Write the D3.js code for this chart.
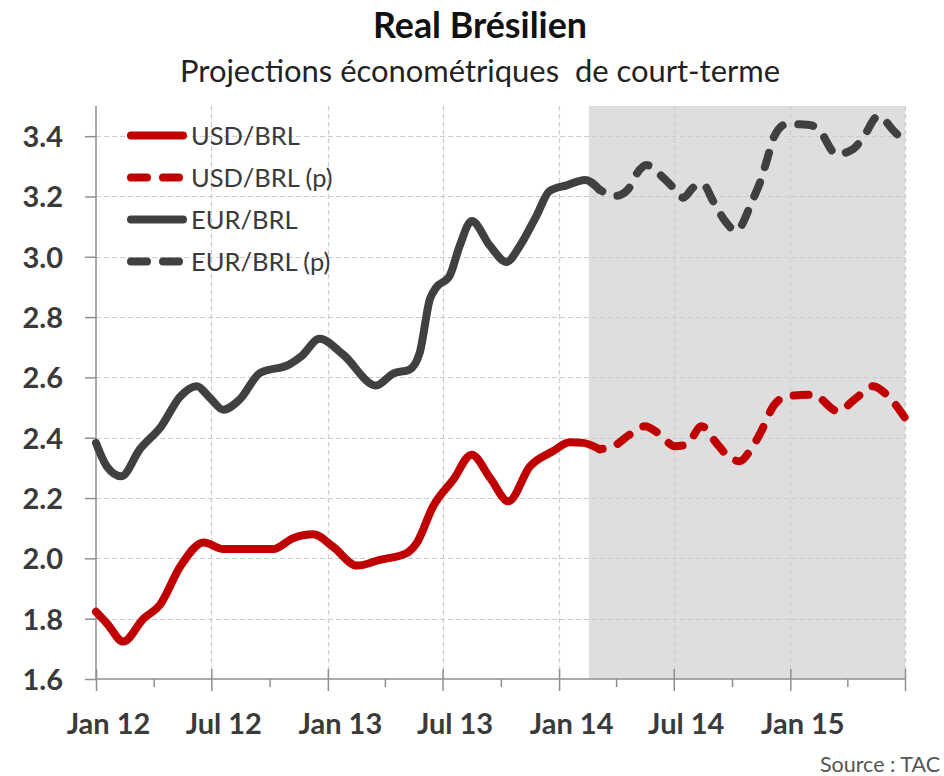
<!DOCTYPE html>
<html>
<head>
<meta charset="utf-8">
<script src="https://cdn.jsdelivr.net/npm/d3@7"></script>
<style>
  html, body { margin: 0; padding: 0; background: #ffffff; }
  svg { display: block; }
  text { font-family: Lato, "Open Sans", sans-serif; }
</style>
</head>
<body>
<svg id="chart" width="944" height="776"></svg>
<script>
// ---------------- DATA ----------------
const titleText = "Real Brésilien";
const subtitleText = "Projections économétriques  de court-terme";
const sourceText = "Source : TAC";

const seriesNames = ["USD/BRL", "USD/BRL (p)", "EUR/BRL", "EUR/BRL (p)"];

const usdHistDates = ["2012-01-01","2012-01-18","2012-02-13","2012-03-16","2012-04-11","2012-05-13","2012-06-19","2012-07-20","2012-10-07","2012-11-07","2012-12-09","2013-01-09","2013-02-16","2013-03-24","2013-05-05","2013-05-21","2013-06-16","2013-07-18","2013-08-16","2013-09-14","2013-10-13","2013-11-16","2013-12-22","2014-01-18","2014-02-08","2014-03-06"];
const usdHistValues = [1.823,1.785,1.724,1.800,1.846,1.973,2.053,2.031,2.031,2.067,2.080,2.039,1.976,1.995,2.017,2.050,2.172,2.261,2.344,2.267,2.189,2.305,2.355,2.385,2.383,2.362];

const usdFcstDates = ["2014-03-06","2014-04-01","2014-04-22","2014-05-16","2014-06-06","2014-07-03","2014-07-21","2014-08-14","2014-09-06","2014-09-22","2014-10-13","2014-11-01","2014-11-16","2014-12-05","2014-12-26","2015-02-06","2015-03-17","2015-04-15","2015-05-12","2015-06-02","2015-07-01"];
const usdFcstValues = [2.362,2.377,2.410,2.438,2.416,2.372,2.377,2.438,2.383,2.344,2.322,2.366,2.421,2.504,2.537,2.543,2.488,2.532,2.571,2.543,2.466];

const eurHistDates = ["2012-01-01","2012-01-18","2012-02-10","2012-03-10","2012-04-13","2012-05-13","2012-06-08","2012-06-29","2012-07-20","2012-08-15","2012-09-16","2012-11-01","2012-11-20","2012-12-19","2013-01-25","2013-03-18","2013-04-14","2013-05-10","2013-05-26","2013-06-11","2013-06-21","2013-07-12","2013-07-28","2013-08-16","2013-09-14","2013-10-10","2013-10-31","2013-11-26","2013-12-17","2014-01-13","2014-02-11","2014-03-06"];
const eurHistValues = [2.383,2.305,2.272,2.361,2.438,2.537,2.571,2.532,2.493,2.527,2.615,2.643,2.670,2.728,2.676,2.573,2.613,2.626,2.682,2.859,2.898,2.936,3.036,3.119,3.036,2.983,3.036,3.135,3.218,3.237,3.255,3.222];

const eurFcstDates = ["2014-03-06","2014-04-01","2014-04-20","2014-05-03","2014-05-19","2014-06-14","2014-06-30","2014-07-16","2014-08-01","2014-08-16","2014-09-01","2014-09-22","2014-10-07","2014-11-03","2014-11-14","2014-11-24","2014-12-07","2014-12-26","2015-02-01","2015-02-16","2015-03-15","2015-04-10","2015-04-26","2015-05-20","2015-06-13","2015-07-01"];
const eurFcstValues = [3.222,3.202,3.224,3.274,3.304,3.263,3.230,3.196,3.230,3.241,3.185,3.113,3.086,3.191,3.246,3.313,3.401,3.440,3.437,3.418,3.340,3.357,3.396,3.467,3.418,3.379];

const forecastBandStart = "2014-02-17";
const xDomainDates = ["2012-01-01", "2015-07-01"];
const yDomain = [1.6, 3.5];
const yTickValues = [1.6, 1.8, 2.0, 2.2, 2.4, 2.6, 2.8, 3.0, 3.2, 3.4];
const xMajorTickDates = ["2012-01-01","2012-07-01","2013-01-01","2013-07-01","2014-01-01","2014-07-01","2015-01-01","2015-07-01"];
const xMajorTickLabels = ["Jan 12","Jul 12","Jan 13","Jul 13","Jan 14","Jul 14","Jan 15",""];
const xMinorTickDates = ["2012-04-01","2012-10-01","2013-04-01","2013-10-01","2014-04-01","2014-10-01","2015-04-01"];

// ---------------- STYLE ----------------
const RED = "#c00000";
const DARK = "#404040";
const TEXT = "#3a3a3a";
const margin = { left: 96, right: 39, top: 106, bottom: 97 };
const W = 944, H = 776;

const parse = d3.timeParse("%Y-%m-%d");
const svg = d3.select("#chart");

const x = d3.scaleTime()
  .domain(xDomainDates.map(parse))
  .range([margin.left, W - margin.right]);
const y = d3.scaleLinear()
  .domain(yDomain)
  .range([H - margin.bottom, margin.top]);

const x0 = x.range()[0], x1 = x.range()[1];
const y0 = y.range()[0], y1 = y.range()[1];

function fitText(sel, targetWidth) {
  const base = parseFloat(sel.attr("font-size"));
  const w = sel.node().getComputedTextLength();
  sel.attr("font-size", (base * targetWidth / w).toFixed(2));
}
const title = svg.append("text")
  .attr("x", 480).attr("y", 38)
  .attr("text-anchor", "middle")
  .attr("font-weight", 700).attr("font-size", 32)
  .attr("fill", "#111").text(titleText);
fitText(title, 214);

const sub = svg.append("text")
  .attr("x", 480).attr("y", 82)
  .attr("text-anchor", "middle")
  .attr("font-size", 28)
  .attr("fill", "#222")
  .attr("xml:space", "preserve")
  .style("white-space", "pre")
  .text(subtitleText);
fitText(sub, 600);

// Forecast band
svg.append("rect")
  .attr("x", x(parse(forecastBandStart)))
  .attr("y", y1)
  .attr("width", x1 - x(parse(forecastBandStart)))
  .attr("height", y0 - y1)
  .attr("fill", "#dedede");

// Gridlines
const grid = svg.append("g").attr("stroke", "#cdcdcd").attr("stroke-width", 1.2).attr("stroke-dasharray", "5 3");
grid.selectAll("line.h")
  .data(yTickValues.filter(v => v > yDomain[0]))
  .join("line")
  .attr("x1", x0).attr("x2", x1)
  .attr("y1", d => Math.round(y(d)) + 0.5).attr("y2", d => Math.round(y(d)) + 0.5);
grid.selectAll("line.v")
  .data(xMajorTickDates.slice(1).map(parse))
  .join("line")
  .attr("x1", d => Math.round(x(d)) + 0.5).attr("x2", d => Math.round(x(d)) + 0.5)
  .attr("y1", y1).attr("y2", y0);

// Y axis
const yAxis = d3.axisLeft(y).tickValues(yTickValues).tickSize(11).tickPadding(22)
  .tickFormat(d3.format(".1f"));
const gy = svg.append("g").attr("transform", `translate(${x0},0)`).call(yAxis);
gy.select(".domain").remove();
gy.selectAll(".tick line").attr("stroke", "#8f8f8f").attr("stroke-width", 1.5);
gy.selectAll(".tick text")
  .attr("font-family", "Lato, sans-serif")
  .attr("font-size", 29).attr("font-weight", 700).attr("fill", TEXT)
  .attr("dy", "0.36em");
svg.append("line")
  .attr("x1", x0).attr("x2", x0).attr("y1", y1).attr("y2", y0)
  .attr("stroke", "#8f8f8f").attr("stroke-width", 1.5);

// X axis
svg.append("line")
  .attr("x1", x0).attr("x2", x1).attr("y1", y0).attr("y2", y0)
  .attr("stroke", "#8f8f8f").attr("stroke-width", 1.5);
const gxMajor = svg.append("g").attr("transform", `translate(0,${y0})`)
  .call(d3.axisBottom(x).tickValues(xMajorTickDates.map(parse)).tickSize(12)
    .tickFormat((d, i) => xMajorTickLabels[i]).tickPadding(22));
gxMajor.select(".domain").remove();
gxMajor.selectAll(".tick line").attr("y1", -10).attr("stroke", "#8f8f8f").attr("stroke-width", 1.5);
gxMajor.selectAll(".tick text")
  .attr("font-family", "Lato, sans-serif")
  .attr("font-size", 29).attr("font-weight", 700).attr("fill", TEXT)
  .attr("dx", 12);
const gxMinor = svg.append("g").attr("transform", `translate(0,${y0})`)
  .call(d3.axisBottom(x).tickValues(xMinorTickDates.map(parse)).tickSize(8).tickFormat(""));
gxMinor.select(".domain").remove();
gxMinor.selectAll(".tick line").attr("stroke", "#8f8f8f").attr("stroke-width", 1.5);

// Lines
const line = d3.line()
  .x(d => x(d[0])).y(d => y(d[1]))
  .curve(d3.curveMonotoneX);
function pairs(dates, vals) { return dates.map((d, i) => [parse(d), vals[i]]); }

const plot = svg.append("g")
  .attr("fill", "none").attr("stroke-width", 8)
  .attr("stroke-linecap", "round").attr("stroke-linejoin", "round");

plot.append("path").attr("d", line(pairs(eurHistDates, eurHistValues))).attr("stroke", DARK);
plot.append("path").attr("d", line(pairs(eurFcstDates, eurFcstValues))).attr("stroke", DARK)
  .attr("stroke-dasharray", "15 16").attr("stroke-dashoffset", 12);
plot.append("path").attr("d", line(pairs(usdHistDates, usdHistValues))).attr("stroke", RED);
plot.append("path").attr("d", line(pairs(usdFcstDates, usdFcstValues))).attr("stroke", RED)
  .attr("stroke-dasharray", "15 16").attr("stroke-dashoffset", 12);

// Legend
const legendColors = [RED, RED, DARK, DARK];
const legendDashed = [false, true, false, true];
const leg = svg.append("g");
seriesNames.forEach((name, i) => {
  const ly = 135.5 + i * 42;
  leg.append("line")
    .attr("x1", 131).attr("x2", 183).attr("y1", ly).attr("y2", ly)
    .attr("stroke", legendColors[i]).attr("stroke-width", 8)
    .attr("stroke-linecap", "round")
    .attr("stroke-dasharray", legendDashed[i] ? "16 16" : null);
  leg.append("text")
    .attr("x", 191).attr("y", ly)
    .attr("dy", "0.36em")
    .attr("font-size", 25.5).attr("fill", TEXT)
    .text(name);
});

// Source
svg.append("text")
  .attr("x", 940).attr("y", 772)
  .attr("text-anchor", "end")
  .attr("font-size", 21.5).attr("fill", "#555")
  .text(sourceText);
</script>
</body>
</html>
